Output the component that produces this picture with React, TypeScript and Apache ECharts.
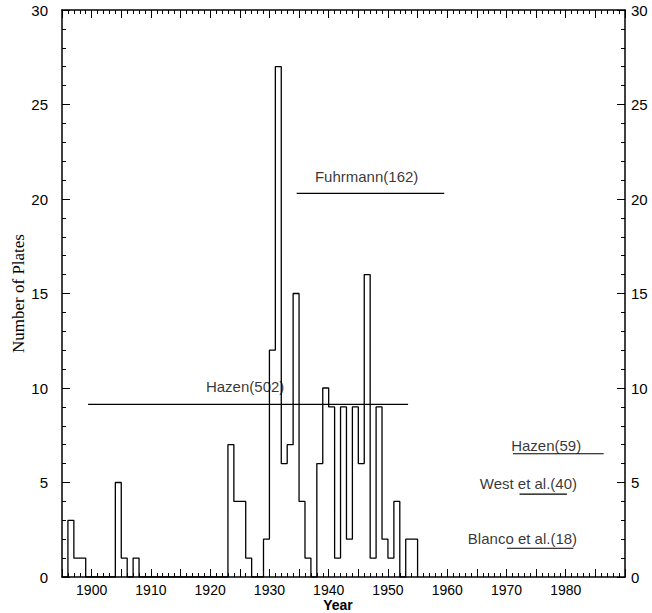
import React, { useEffect, useRef } from "react";
import * as echarts from "echarts";

// Histogram bins (start year of each 1-year bin) and number of plates
const years = [
  1895, 1896, 1897, 1898, 1899, 1900, 1901, 1902, 1903, 1904,
  1905, 1906, 1907, 1908, 1909, 1910, 1911, 1912, 1913, 1914,
  1915, 1916, 1917, 1918, 1919, 1920, 1921, 1922, 1923, 1924,
  1925, 1926, 1927, 1928, 1929, 1930, 1931, 1932, 1933, 1934,
  1935, 1936, 1937, 1938, 1939, 1940, 1941, 1942, 1943, 1944,
  1945, 1946, 1947, 1948, 1949, 1950, 1951, 1952, 1953, 1954,
  1955,
];
const plates = [
  0, 3, 1, 1, 0, 0, 0, 0, 0, 5,
  1, 0, 1, 0, 0, 0, 0, 0, 0, 0,
  0, 0, 0, 0, 0, 0, 0, 0, 7, 4,
  4, 1, 0, 0, 2, 12, 27, 6, 7, 15,
  4, 1, 0, 6, 10, 9, 1, 9, 2, 9,
  6, 16, 1, 9, 2, 1, 4, 0, 2, 2,
  0,
];

// Survey reference lines (mean plate rates over their time spans)
const refNames = ["Hazen(502)", "Fuhrmann(162)", "Hazen(59)", "West et al.(40)", "Blanco et al.(18)"];
const refStart = [1899.4, 1934.6, 1971.1, 1972.2, 1970.1];
const refEnd = [1953.4, 1959.5, 1986.4, 1980.2, 1981.3];
const refLevel = [9.13, 20.3, 6.52, 4.39, 1.52];

// Tick labels
const yTicks = [0, 5, 10, 15, 20, 25, 30];
const xLabelYears = [1900, 1910, 1920, 1930, 1940, 1950, 1960, 1970, 1980];

// label layout (position of each reference label along its line, and gap above it)
const refLabelX = [1925.9, 1946.4, 1976.7, 1973.7, 1972.7];
const refLabelGap = [10, 9, 1, 3, 2];

const FONT = "Liberation Sans, Arial, Helvetica, sans-serif";

export default function App() {
  const ref = useRef<HTMLDivElement>(null);
  useEffect(() => {
    if (!ref.current) return;
    const chart = echarts.init(ref.current, undefined, { renderer: "svg" });
    const tickCommon = {
      axisTick: { show: true, inside: true, length: 8, lineStyle: { color: "#000", width: 1 } },
      minorTick: { show: true, splitNumber: 5, length: 4, lineStyle: { color: "#000", width: 1 } },
      splitLine: { show: false },
      minorSplitLine: { show: false },
      axisLine: { show: true, onZero: false, lineStyle: { color: "#000", width: 1.5 } },
    };
    const series: any[] = [
      {
        type: "line",
        step: "end",
        symbol: "none",
        data: years.map((y, i) => [y, plates[i]]),
        lineStyle: { color: "#000", width: 1.3 },
        z: 3,
      },
    ];
    refNames.forEach((name, i) => {
      series.push({
        type: "line",
        symbol: "none",
        data: [
          [refStart[i], refLevel[i]],
          [refEnd[i], refLevel[i]],
        ],
        lineStyle: { color: "#000", width: 1.2 },
        z: 2,
      });
      series.push({
        type: "scatter",
        symbolSize: 0,
        data: [[refLabelX[i], refLevel[i]]],
        label: {
          show: true,
          position: "top",
          distance: refLabelGap[i],
          formatter: name,
          color: "#000",
          fontFamily: FONT,
          fontSize: 15,
        },
        z: 4,
      });
    });
    chart.setOption({
      animation: false,
      backgroundColor: "#fff",
      grid: { left: 62, right: 27, top: 10, bottom: 36, containLabel: false, outerBoundsMode: "none" },
      xAxis: [
        {
          type: "value",
          min: 1895,
          max: 1990,
          interval: 5,
          position: "bottom",
          name: "Year",
          nameLocation: "middle",
          nameGap: 21,
          nameMoveOverlap: false,
          nameTextStyle: { color: "#000", fontFamily: FONT, fontSize: 14, fontWeight: "bold", padding: [0, 11, 0, 0] },
          axisLabel: {
            color: "#000",
            fontFamily: FONT,
            fontSize: 14,
            margin: 6,
            formatter: (v: number) => (xLabelYears.includes(v) ? String(v) : ""),
          },
          ...tickCommon,
        },
        {
          type: "value",
          min: 1895,
          max: 1990,
          interval: 5,
          position: "top",
          axisLabel: { show: false },
          ...tickCommon,
        },
      ],
      yAxis: [
        {
          type: "value",
          min: 0,
          max: 30,
          interval: 5,
          position: "left",
          name: "Number of Plates",
          nameLocation: "middle",
          nameGap: 35,
          nameMoveOverlap: false,
          nameRotate: 90,
          nameTextStyle: { color: "#000", fontFamily: "Liberation Serif, Times New Roman, serif", fontSize: 17 },
          axisLabel: {
            color: "#000",
            fontFamily: FONT,
            fontSize: 15,
            margin: 14,
            formatter: (v: number) => (yTicks.includes(v) ? String(v) : ""),
          },
          ...tickCommon,
        },
        {
          type: "value",
          min: 0,
          max: 30,
          interval: 5,
          position: "right",
          axisLabel: {
            color: "#000",
            fontFamily: FONT,
            fontSize: 15,
            margin: 6,
            formatter: (v: number) => (yTicks.includes(v) ? String(v) : ""),
          },
          ...tickCommon,
        },
      ],
      series,
    });
    return () => chart.dispose();
  }, []);
  return (
    <div
      ref={ref}
      style={{ position: "absolute", left: 0, top: 0, width: 652, height: 613, background: "#fff" }}
    />
  );
}
